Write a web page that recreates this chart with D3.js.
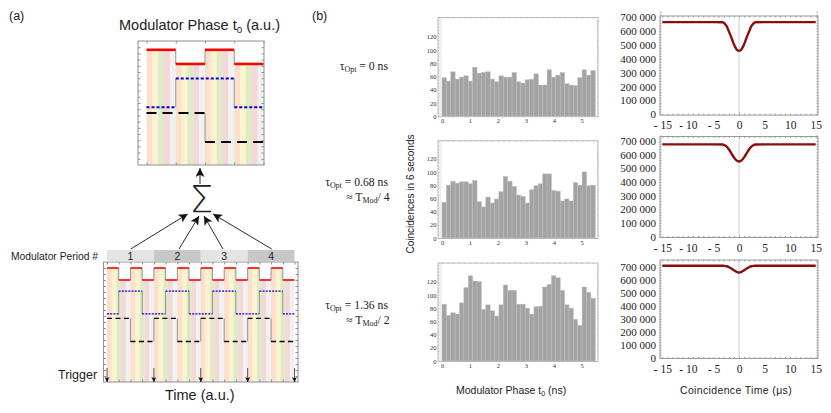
<!DOCTYPE html>
<html>
<head>
<meta charset="utf-8">
<script src="https://cdn.jsdelivr.net/npm/d3@7"></script>
<style>
  html, body { margin: 0; background: #fff; }
  text { font-family: "Liberation Sans", sans-serif; fill: #222; }
  .serif { font-family: "Liberation Serif", serif; }
</style>
</head>
<body>
<div id="chart"></div>
<script>
// histogram counts, one bar per bin
const binWidth = 0.1567;
const counts0 = [58,53,67,56,59,61,53,74,65,66,67,56,52,61,59,59,66,52,50,55,56,64,47,47,70,59,62,66,49,47,46,58,70,62,69];
const counts1 = [54,80,86,83,85,85,82,87,55,47,62,53,59,70,93,86,78,65,63,53,73,79,82,97,97,72,71,56,59,56,84,80,100,79,80];
const counts2 = [86,69,73,71,88,111,129,121,120,78,85,76,68,85,115,107,107,86,86,80,71,82,83,112,116,129,126,107,85,80,63,54,112,104,95];
const histTicksX = [0, 1, 2, 3, 4, 5];
const histTicksY = [0, 20, 40, 60, 80, 100, 120];

// coincidence curves
const timeX = [-15,-10,-5,-3.2,-2.8,-2.4,-2,-1.5,-1,-0.5,0,0.5,1,1.5,2,2.4,2.8,3.2,5,10,15];
const curve0 = [665000,665000,665000,664000,655000,635000,600000,555000,505000,470000,458000,470000,505000,555000,600000,635000,655000,664000,665000,665000,665000];
const curve1 = [675000,675000,675000,674000,669000,658000,640000,610000,580000,558000,550000,558000,580000,610000,640000,658000,669000,674000,675000,675000,675000];
const curve2 = [712000,712000,712000,712000,711000,708000,702000,691000,677000,665000,660000,665000,677000,691000,702000,708000,711000,712000,712000,712000,712000];
const timeTicks = [-15,-10,-5,0,5,10,15];
const countTicks = [0,100000,200000,300000,400000,500000,600000,700000];

// modulator states per half period (1 = high), left panel
const redSum = [1,0,1,0];
const blueSum = [0,1,1,0];
const blackSum = [1,1,0,0];
const redRaw = [1,0,1,0,1,0,1,0,1,0,1,0,1,0,1,0];
const blueRaw = [0,1,1,0,0,1,1,0,0,1,1,0,0,1,1,0];
const blackRaw = [1,1,0,0,1,1,0,0,1,1,0,0,1,1,0,0];
const stripeColors = ["#fde0cc", "#fdf3cf", "#dfeac8", "#f3d8d8", "#f1f1f1"];
const periods = ["1", "2", "3", "4"];

const svg = d3.select("#chart").append("svg")
  .attr("width", 831).attr("height", 413)
  .style("display", "block");

// frame with inward ticks on all four sides
function frame(box, x, y, xt, yt, col, len) {
  const g = svg.append("g").attr("fill", "none");
  g.append("rect")
    .attr("x", box.l).attr("y", box.t)
    .attr("width", box.r - box.l).attr("height", box.b - box.t)
    .attr("stroke", col);
  const sides = [
    [d3.axisBottom(x).tickValues(xt), `translate(0,${box.b})`, -len],
    [d3.axisTop(x).tickValues(xt), `translate(0,${box.t})`, -len],
    [d3.axisLeft(y).tickValues(yt), `translate(${box.l},0)`, -len],
    [d3.axisRight(y).tickValues(yt), `translate(${box.r},0)`, -len]
  ];
  sides.forEach(([ax, tr, s]) => {
    const a = g.append("g").attr("transform", tr)
      .call(ax.tickSize(s).tickFormat(""));
    a.select(".domain").remove();
    a.selectAll("line").attr("stroke", col);
  });
}

// ---------- left side: step panels ----------
function stepPanel(id, box, nHalf, x0, x1, levels, states, stripeN, weights) {
  const x = d3.scaleLinear().domain([0, nHalf]).range([x0, x1]);
  const y = d3.scaleLinear().domain([0, 1]).range([box.b, box.t]);
  const line = (st, lv) => st.concat(st[st.length - 1]).map((s, i) => [i, s ? lv[1] : lv[0]]);

  const redPts = line(states[0], levels[0]);
  const area = d3.area().curve(d3.curveStepAfter)
    .x(d => x(d[0])).y0(y(0)).y1(d => y(d[1]));
  svg.append("clipPath").attr("id", id).append("path").attr("d", area(redPts));

  const stripes = d3.range(nHalf * stripeN);
  svg.append("g").attr("clip-path", `url(#${id})`)
    .selectAll("rect").data(stripes).join("rect")
    .attr("x", d => x(d / stripeN))
    .attr("width", x(1 / stripeN) - x(0) + 0.2)
    .attr("y", box.t).attr("height", box.b - box.t)
    .attr("fill", d => stripeColors[d % 5]);

  frame(box, x, y, d3.range(0, nHalf + 1, 1), d3.range(0.05, 1, 0.05), "#8f8f8f", 2.5);

  const styles = [["#f00", null, weights[0]], ["#00d", weights[3], weights[1]], ["#000", weights[4], weights[2]]];
  states.forEach((st, k) => {
    const lv = s => y(s ? levels[k][1] : levels[k][0]);
    // grey risers where the state changes
    const changes = d3.range(1, st.length).filter(i => st[i] !== st[i - 1]);
    svg.append("g").selectAll("line").data(changes).join("line")
      .attr("x1", d => x(d)).attr("x2", d => x(d))
      .attr("y1", lv(0)).attr("y2", lv(1))
      .attr("stroke", "#8a8a8a").attr("stroke-width", 0.9);
    // the flat runs in colour on top
    const runs = [];
    st.forEach((s, i) => {
      if (i > 0 && st[i - 1] === s) runs[runs.length - 1][1] = i + 1;
      else runs.push([i, i + 1, s]);
    });
    svg.append("g").selectAll("line").data(runs).join("line")
      .attr("x1", d => x(d[0])).attr("x2", d => x(d[1]))
      .attr("y1", d => lv(d[2]))
      .attr("y2", d => lv(d[2]))
      .attr("stroke", styles[k][0])
      .attr("stroke-width", styles[k][2])
      .attr("stroke-dasharray", styles[k][1]);
  });
  return x;
}

stepPanel("clipSum", { l: 138, r: 264, t: 41, b: 165 }, 4, 146.5, 263.5,
  [[0.815, 0.929], [0.465, 0.698], [0.185, 0.42]],
  [redSum, blueSum, blackSum], 5, [2.6, 2, 2, "3 2", "10 6"]);

const xRaw = stepPanel("clipRaw", { l: 103.5, r: 298, t: 262, b: 382 }, 16, 107, 294.5,
  [[0.85, 0.95], [0.567, 0.757], [0.337, 0.53]],
  [redRaw, blueRaw, blackRaw], 2.5, [1.6, 1.2, 1.4, "2 1.2", "5 3.5"]);

// period banner
svg.append("g").selectAll("rect").data(periods).join("rect")
  .attr("x", (d, i) => xRaw(i * 4))
  .attr("width", xRaw(4) - xRaw(0))
  .attr("y", 250).attr("height", 11.5)
  .attr("fill", (d, i) => i % 2 ? "#c8c8c8" : "#e4e4e4");
svg.append("g").selectAll("text").data(periods).join("text")
  .attr("x", (d, i) => xRaw(i * 4 + 2)).attr("y", 260)
  .attr("text-anchor", "middle").attr("font-size", 10.5).text(d => d);

// arrows
const defs = svg.append("defs");
defs.append("marker").attr("id", "arrowBig").attr("viewBox", "0 0 10 10")
  .attr("refX", 10).attr("refY", 5).attr("markerUnits", "userSpaceOnUse")
  .attr("markerWidth", 13).attr("markerHeight", 9).attr("orient", "auto")
  .append("path").attr("d", "M0,0L10,5L0,10L2.5,5Z").attr("fill", "#111");
defs.append("marker").attr("id", "arrowSmall").attr("viewBox", "0 0 10 10")
  .attr("refX", 10).attr("refY", 5).attr("markerUnits", "userSpaceOnUse")
  .attr("markerWidth", 6).attr("markerHeight", 5).attr("orient", "auto")
  .append("path").attr("d", "M0,0L10,5L0,10L2.5,5Z").attr("fill", "#111");

const sumArrows = [[130.7, 249, 187.7, 214], [179, 249, 199, 216], [223, 249, 204, 216], [271.7, 249, 213, 214], [200, 184, 200, 168]];
svg.append("g").selectAll("line").data(sumArrows).join("line")
  .attr("x1", d => d[0]).attr("y1", d => d[1])
  .attr("x2", d => d[2]).attr("y2", d => d[3])
  .attr("stroke", "#111").attr("stroke-width", 0.9)
  .attr("marker-end", "url(#arrowBig)");

svg.append("g").selectAll("line").data(d3.range(0, 17, 4)).join("line")
  .attr("x1", d => xRaw(d)).attr("x2", d => xRaw(d))
  .attr("y1", 368).attr("y2", 382)
  .attr("stroke", "#111").attr("stroke-width", 0.7)
  .attr("marker-end", "url(#arrowSmall)");

svg.append("text").attr("x", 201.5).attr("y", 212)
  .attr("text-anchor", "middle").attr("font-size", 38)
  .style("font-family", '"DejaVu Sans"').style("font-weight", 200).text("Σ");

// text with subscript parts: 0 normal, 1 subscript, 2 back on the baseline
function sub(sel, parts) {
  parts.forEach(([t, kind]) => {
    sel.append("tspan").text(t)
      .attr("font-size", kind === 1 ? +sel.attr("font-size") * 0.68 : null)
      .attr("dy", kind === 1 ? "0.28em" : (kind === 2 ? "-0.19em" : null));
  });
}
svg.append("text").attr("x", 9).attr("y", 20).attr("font-size", 12.5).text("(a)");
svg.append("text").attr("x", 312).attr("y", 20).attr("font-size", 12.5).text("(b)");
svg.append("text").attr("x", 119).attr("y", 30).attr("font-size", 14.5)
  .call(sub, [["Modulator Phase t", 0], ["0", 1], [" (a.u.)", 2]]);
svg.append("text").attr("x", 11).attr("y", 260).attr("font-size", 10.3).text("Modulator Period #");
svg.append("text").attr("x", 58).attr("y", 379).attr("font-size", 12.5).text("Trigger");
svg.append("text").attr("x", 165).attr("y", 400).attr("font-size", 14.5).text("Time (a.u.)");

// ---------- histograms ----------
const histX = d3.scaleLinear().domain([0, 5]).range([442, 581.7]);
function hist(values, top, zero, y120) {
  const box = { l: 438, r: 598, t: top, b: zero + 0.5 };
  const y = d3.scaleLinear().domain([0, 120]).range([zero, y120]);
  svg.append("rect").attr("x", 439).attr("width", 2.5).attr("y", top).attr("height", zero - top)
    .attr("fill", "#eee");
  svg.append("g").selectAll("rect").data(values).join("rect")
    .attr("x", (d, i) => histX(i * binWidth))
    .attr("width", histX(binWidth) - histX(0))
    .attr("y", d => y(d))
    .attr("height", d => y(0) - y(d))
    .attr("fill", "#a3a3a3").attr("stroke", "#bdbdbd").attr("stroke-width", 0.5);
  frame(box, histX, y, d3.range(0, 5.6, 0.2), d3.range(0, 150, 5), "#b9b9b9", 1);

  const tickX = d3.axisBottom(histX).tickValues(histTicksX).tickSize(0).tickPadding(2).tickFormat(d3.format("d"));
  const ax = svg.append("g").attr("transform", `translate(0,${box.b})`).call(tickX);
  ax.select(".domain").remove();
  ax.selectAll("text").attr("class", "serif").attr("font-size", 6.5).style("fill", "#333");
  const tickY = d3.axisLeft(y).tickValues(histTicksY).tickSize(0).tickPadding(1.5);
  const ay = svg.append("g").attr("transform", `translate(${box.l},0)`).call(tickY);
  ay.select(".domain").remove();
  ay.selectAll("text").attr("class", "serif").attr("font-size", 6.5).style("fill", "#333");
}
hist(counts0, 17.5, 116.2, 36.7);
hist(counts1, 140.7, 238, 158.7);
hist(counts2, 263, 361, 281.7);

// ---------- coincidence curves ----------
const timeScale = d3.scaleLinear().domain([-15, 15]).range([662.3, 815.7]);
const spaced = d => d === 0 ? "0" : `${d / 1000} 000`;
const minusFmt = d => d < 0 ? `- ${-d}` : `${d}`;
function curvePanel(values, top, zero, y700) {
  const box = { l: 660, r: 818, t: top, b: zero + 0.8 };
  const y = d3.scaleLinear().domain([0, 700000]).range([zero, y700]);
  svg.append("line").attr("x1", timeScale(0)).attr("x2", timeScale(0))
    .attr("y1", top).attr("y2", box.b).attr("stroke", "#ccc");
  frame(box, timeScale, y, d3.range(-15, 15.1, 1), d3.range(0, 750000, 20000), "#9a9a9a", 1.5);

  const line = d3.line().curve(d3.curveMonotoneX)
    .x((d, i) => timeScale(timeX[i])).y(d => y(d));
  svg.append("path").attr("d", line(values)).attr("fill", "none")
    .attr("stroke", "#8c0c0c").attr("stroke-width", 2.4);

  const ax = svg.append("g").attr("transform", `translate(0,${box.b})`)
    .call(d3.axisBottom(timeScale).tickValues(timeTicks).tickSize(0).tickPadding(6).tickFormat(minusFmt));
  ax.select(".domain").remove();
  ax.selectAll("text").attr("class", "serif").attr("font-size", 11.5).style("fill", "#222");
  const ay = svg.append("g").attr("transform", `translate(${box.l},0)`)
    .call(d3.axisLeft(y).tickValues(countTicks).tickSize(0).tickPadding(4).tickFormat(spaced));
  ay.select(".domain").remove();
  ay.selectAll("text").attr("class", "serif").attr("font-size", 11).style("fill", "#222");
}
curvePanel(curve0, 16, 114.3, 17.3);
curvePanel(curve1, 136.5, 236.7, 141);
curvePanel(curve2, 260, 357.7, 267.3);

// ---------- labels on the right ----------
svg.append("text").attr("transform", "translate(414,194) rotate(-90)")
  .attr("text-anchor", "middle").attr("font-size", 10).text("Coincidences in 6 seconds");
svg.append("text").attr("x", 456).attr("y", 394).attr("font-size", 10.5)
  .call(sub, [["Modulator Phase t", 0], ["0", 1], [" (ns)", 2]]);
svg.append("text").attr("x", 680).attr("y", 394).attr("font-size", 10.5)
  .attr("letter-spacing", 0.35).text("Coincidence Time (μs)");

const tauLabels = [
  [388, 70, [["τ", 0], ["Opt", 1], [" = 0 ns", 2]]],
  [388, 186, [["τ", 0], ["Opt", 1], [" = 0.68 ns", 2]]],
  [389.5, 201, [["≈ T", 0], ["Mod", 1], ["/ 4", 2]]],
  [388, 309, [["τ", 0], ["Opt", 1], [" = 1.36 ns", 2]]],
  [389.5, 324, [["≈ T", 0], ["Mod", 1], ["/ 2", 2]]]
];
tauLabels.forEach(([x, y, parts]) => {
  svg.append("text").attr("class", "serif")
    .attr("x", x).attr("y", y).attr("text-anchor", "end").attr("font-size", 11.7)
    .call(sub, parts);
});
</script>
</body>
</html>
